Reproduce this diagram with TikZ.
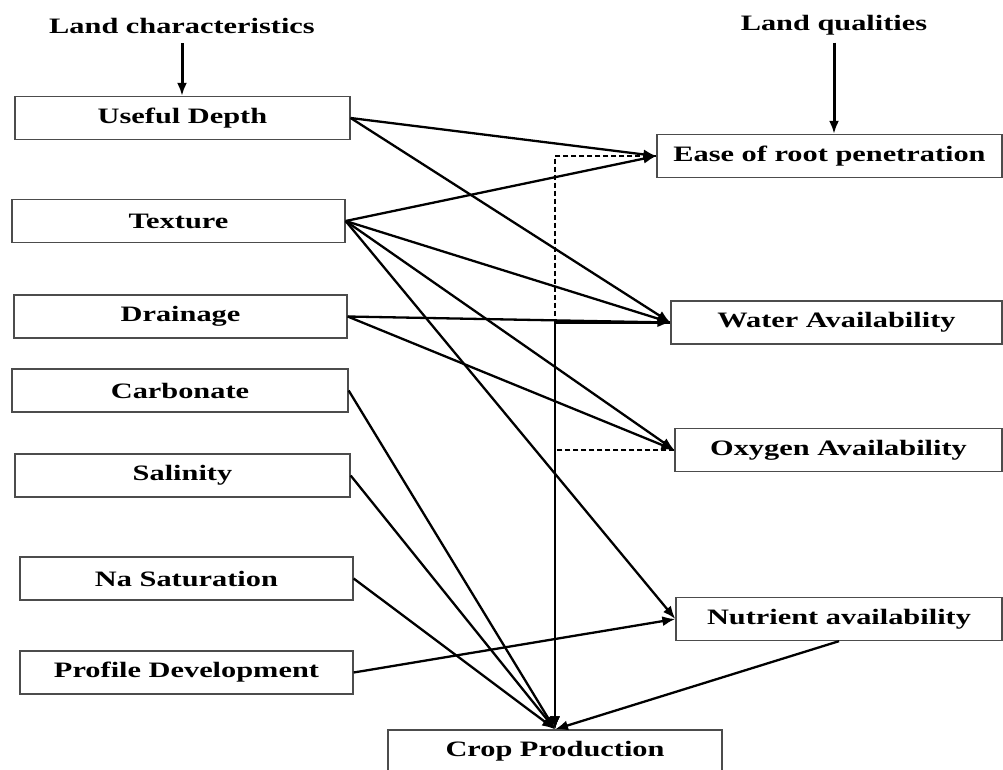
\documentclass[tikz,border=0pt]{standalone}
\usepackage{fontspec}
\setmainfont{Liberation Serif}[FakeStretch=1.38]
\usetikzlibrary{arrows.meta}

\begin{document}
\begin{tikzpicture}[x=1pt, y=-1pt, font=\bfseries\fontsize{22}{26}\selectfont,
  box/.style = {shape=rectangle, draw=black!70, line width=1.3pt, minimum height=43pt, inner sep=0pt},
  link/.style = {line width=2.3pt, -{Latex[length=13pt,width=10pt]}},
  dlink/.style = {link, dash pattern=on 5pt off 3pt}]
\useasboundingbox (0,0) rectangle (1003,769);
\node (lc) at (182,26) {Land characteristics};
\node (lq) at (834,25) {Land qualities};
\node[box, minimum width=335pt] (depth) at (182.5,118) {Useful Depth};
\node[box, minimum width=333pt] (texture) at (178.5,221) {Texture};
\node[box, minimum width=333pt] (drainage) at (180.5,316.5) {Drainage};
\node[box, minimum width=336pt] (carbonate) at (180,390.5) {Carbonate};
\node[box, minimum width=335pt] (salinity) at (182.5,475.5) {Salinity};
\node[box, minimum width=333pt] (nasat) at (186.5,578.5) {Na Saturation};
\node[box, minimum width=333pt] (profile) at (186.5,672.5) {Profile Development};
\node[box, minimum width=345pt] (ease) at (829.5,156) {Ease of root penetration};
\node[box, minimum width=331pt] (water) at (836.5,322.5) {Water Availability};
\node[box, minimum width=327pt] (oxygen) at (838.5,450) {Oxygen Availability};
\node[box, minimum width=326pt] (nutrient) at (839,619) {Nutrient availability};
\node[box, minimum width=334pt] (crop) at (555,751.5) {Crop Production};
% headings
\draw[link, line width=3pt, shorten <=6pt] (lc.south) -- (lc.south |- depth.north);
\draw[link, line width=3pt, shorten <=4pt] (lq.south) -- (lq.south |- ease.north);
% characteristics to qualities
\draw[link] (depth.east) -- (ease.west);
\draw[link] (depth.east) -- (water.west);
\draw[link] (texture.east) -- (ease.west);
\draw[link] (texture.east) -- (water.west);
\draw[link] (texture.east) -- (oxygen.west);
\draw[link] (texture.east) -- (nutrient.west);
\draw[link] (drainage.east) -- (water.west);
\draw[link] (drainage.east) -- (oxygen.west);
\draw[link] (profile.east) -- (nutrient.west);
% to crop production
\draw[link] (carbonate.east) -- (crop.north);
\draw[link] (salinity.east) -- (crop.north);
\draw[link] (nasat.east) -- (crop.north);
\draw[link] (nutrient.south) -- (crop.north);
\draw[link] (water.west) -| (crop.north);
\draw[dlink] (ease.west) -| (crop.north);
\draw[dlink] (oxygen.west) -| (crop.north);
\end{tikzpicture}
\end{document}
